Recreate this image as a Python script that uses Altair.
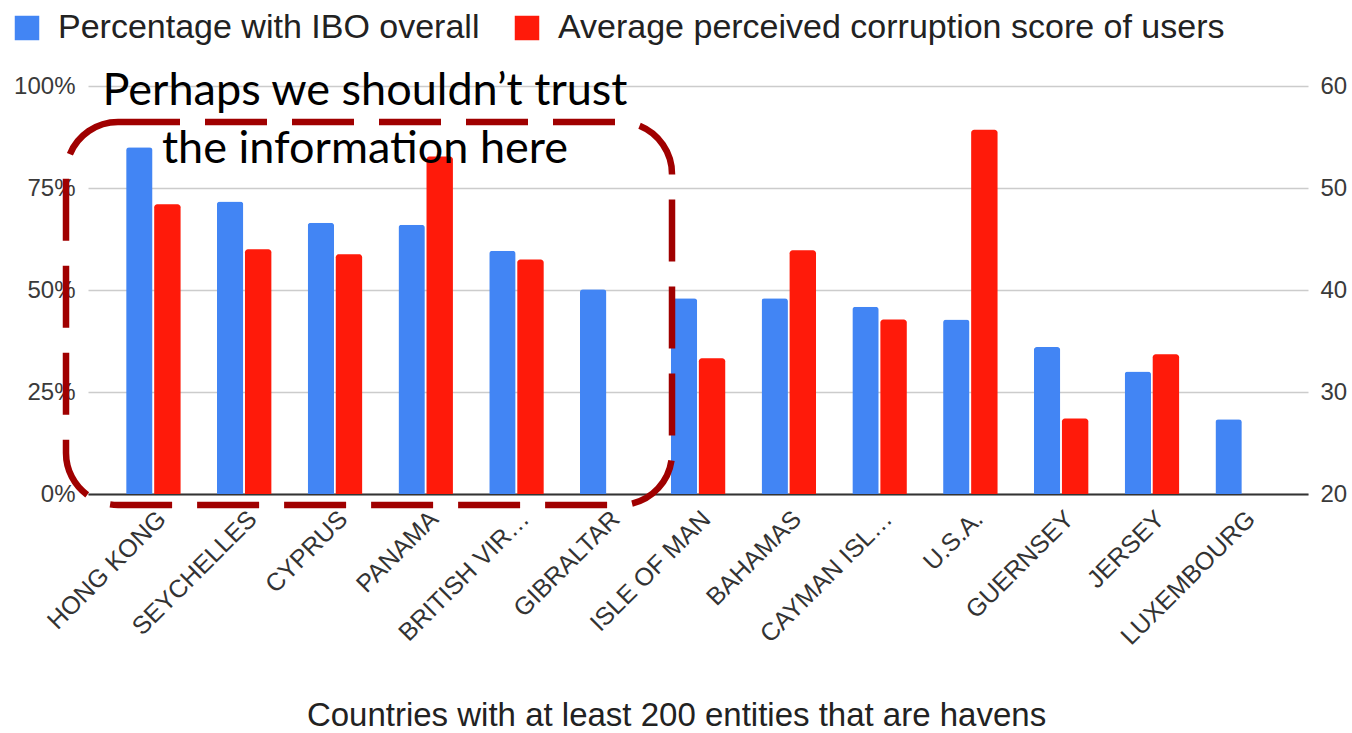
import altair as alt
import pandas as pd

# ---- data ----
countries = ["HONG KONG", "SEYCHELLES", "CYPRUS", "PANAMA", "BRITISH VIR…", "GIBRALTAR",
             "ISLE OF MAN", "BAHAMAS", "CAYMAN ISL…", "U.S.A.", "GUERNSEY", "JERSEY", "LUXEMBOURG"]
pct_ibo = [0.85, 0.717, 0.665, 0.66, 0.596, 0.502, 0.48, 0.48, 0.459, 0.428, 0.36, 0.30, 0.183]
corruption = [48.4, 44.0, 43.5, 53.1, 43.0, None, 33.3, 43.9, 37.1, 55.7, 27.4, 33.7, None]
series_names = ["Percentage with IBO overall", "Average perceived corruption score of users"]
left_ticks = [0, 0.25, 0.5, 0.75, 1.0]
right_ticks = [20, 30, 40, 50, 60]
note_lines = ["Perhaps we shouldn’t trust", "the information here"]
x_title = "Countries with at least 200 entities that are havens"

# ---- styles ----
series_colors = ["#4285F4", "#FF1A0A"]
FONT = "Liberation Sans"
NOTE_FONT = "Lato"
W, H = 1220, 408
PAD = {"left": 88, "top": 86, "right": 44, "bottom": 239}

rows = []
for c, p, s in zip(countries, pct_ibo, corruption):
    rows.append({"country": c, "series": series_names[0], "pct": p, "score": None})
    if s is not None:
        rows.append({"country": c, "series": series_names[1], "pct": None, "score": s})
df = pd.DataFrame(rows)

x_enc = alt.X(
    "country:N", sort=countries,
    scale=alt.Scale(paddingInner=0.4, paddingOuter=0.42),
    axis=alt.Axis(
        labelAngle=-45, labelFontSize=25, labelColor="#333", labelFont=FONT,
        labelPadding=12, ticks=False, domainColor="#333", domainWidth=2,
        title=x_title, titleFontSize=33, titleFontWeight="normal", titleColor="#222",
        titleFont=FONT, titleX=588, titleY=231, titleBaseline="alphabetic",
        titleAlign="center", titleAnchor="start",
    ),
)
xo_enc = alt.XOffset("series:N", sort=series_names,
                     scale=alt.Scale(domain=series_names, paddingInner=0.06))
color_enc = alt.Color(
    "series:N",
    scale=alt.Scale(domain=series_names, range=series_colors),
    legend=alt.Legend(
        orient="none", legendX=-78, legendY=-75, direction="horizontal", title=None,
        symbolType="square", symbolSize=600, symbolStrokeWidth=0,
        labelFontSize=34, labelFont=FONT, labelColor="#222", labelOffset=14,
        columnPadding=30, labelLimit=900,
    ),
)

blue = alt.Chart(df).transform_filter(
    alt.datum.series == series_names[0]
).mark_bar(cornerRadiusTopLeft=3, cornerRadiusTopRight=3).encode(
    x=x_enc, xOffset=xo_enc, color=color_enc,
    y=alt.Y("pct:Q", scale=alt.Scale(domain=[0, 1], nice=False),
            axis=alt.Axis(format="%", values=left_ticks, title=None, domain=False, ticks=False,
                          grid=True, gridColor="#cccccc", gridWidth=1.5,
                          labelFontSize=24, labelFont=FONT, labelColor="#3a3a3a", labelPadding=13)),
)

red = alt.Chart(df).transform_filter(
    alt.datum.series == series_names[1]
).mark_bar(cornerRadiusTopLeft=3, cornerRadiusTopRight=3).encode(
    x=x_enc, xOffset=xo_enc, color=color_enc,
    y=alt.Y("score:Q", scale=alt.Scale(domain=[20, 60], nice=False, zero=False),
            axis=alt.Axis(orient="right", values=right_ticks, title=None, domain=False,
                          ticks=False, grid=False,
                          labelFontSize=24, labelFont=FONT, labelColor="#3a3a3a", labelPadding=12)),
    y2=alt.datum(20),
)

note_box = alt.Chart(alt.Data(values=[{"k": 1}])).mark_rect(
    cornerRadius=52, fill="white", fillOpacity=0, stroke="#A00000",
    strokeWidth=6.5, strokeDash=[62, 25],
).encode(
    x=alt.value(-22), x2=alt.value(584), y=alt.value(36), y2=alt.value(419),
)

note_text = alt.Chart(alt.Data(values=[{"k": 1}])).mark_text(
    font=NOTE_FONT, fontSize=45, align="center", baseline="alphabetic",
    lineHeight=58, color="black",
).encode(
    x=alt.value(277), y=alt.value(19), text=alt.value(note_lines),
)

chart = alt.layer(blue, red, note_box, note_text).resolve_scale(
    y="independent"
).properties(
    width=W, height=H, padding=PAD,
    autosize=alt.AutoSizeParams(type="none"),
    background="white",
).configure_view(stroke=None)

chart.save("out.html", embed_options={"renderer": "svg", "actions": False})
